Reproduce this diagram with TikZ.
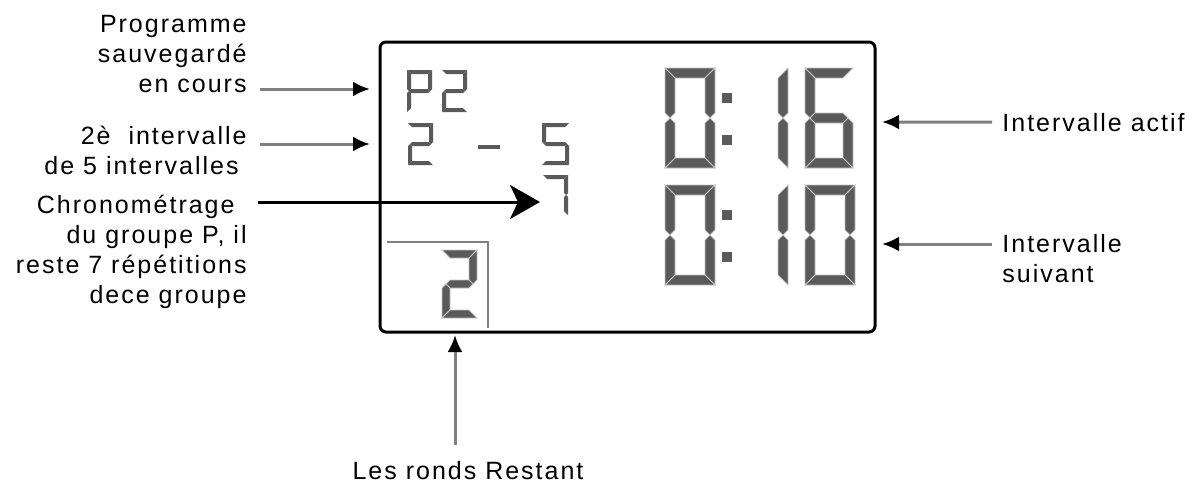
\documentclass[tikz,border=0pt]{standalone}
\usepackage{fontspec}
\setmainfont{Liberation Sans}[LetterSpace=8]
\usetikzlibrary{arrows.meta}

\definecolor{segfill}{HTML}{5A5A5A}
\definecolor{segedge}{HTML}{C4C4C4}
\definecolor{shaft}{HTML}{808080}

% seven segment digit: [style]{x}{y}{width}{height}{thickness}{segments}
\newcommand{\lcddigit}[7][lcdseg]{%
  \begin{scope}[shift={(#2,#3)},lcdpart/.style={#1}]
    \def\sgw{#4}\def\sgh{#5}\def\sgt{#6}
    \foreach \s in {#7}{\csname lcdseg\s\endcsname}
  \end{scope}}
\newcommand{\lcdsega}{\path[lcdpart] (0,0) -- (\sgw,0) -- ({\sgw-\sgt},\sgt) -- (\sgt,\sgt) -- cycle;}
\newcommand{\lcdsegb}{\path[lcdpart] (\sgw,0) -- (\sgw,{\sgh/2-\sgt/2}) -- ({\sgw-\sgt/2},{\sgh/2}) -- ({\sgw-\sgt},{\sgh/2-\sgt/2}) -- ({\sgw-\sgt},\sgt) -- cycle;}
\newcommand{\lcdsegc}{\path[lcdpart] (\sgw,\sgh) -- (\sgw,{\sgh/2+\sgt/2}) -- ({\sgw-\sgt/2},{\sgh/2}) -- ({\sgw-\sgt},{\sgh/2+\sgt/2}) -- ({\sgw-\sgt},{\sgh-\sgt}) -- cycle;}
\newcommand{\lcdsegd}{\path[lcdpart] (0,\sgh) -- (\sgw,\sgh) -- ({\sgw-\sgt},{\sgh-\sgt}) -- (\sgt,{\sgh-\sgt}) -- cycle;}
\newcommand{\lcdsege}{\path[lcdpart] (0,\sgh) -- (0,{\sgh/2+\sgt/2}) -- ({\sgt/2},{\sgh/2}) -- (\sgt,{\sgh/2+\sgt/2}) -- (\sgt,{\sgh-\sgt}) -- cycle;}
\newcommand{\lcdsegf}{\path[lcdpart] (0,0) -- (0,{\sgh/2-\sgt/2}) -- ({\sgt/2},{\sgh/2}) -- (\sgt,{\sgh/2-\sgt/2}) -- (\sgt,\sgt) -- cycle;}
\newcommand{\lcdsegg}{\path[lcdpart] ({\sgt/2},{\sgh/2}) -- (\sgt,{\sgh/2-\sgt/2}) -- ({\sgw-\sgt},{\sgh/2-\sgt/2}) -- ({\sgw-\sgt/2},{\sgh/2}) -- ({\sgw-\sgt},{\sgh/2+\sgt/2}) -- (\sgt,{\sgh/2+\sgt/2}) -- cycle;}

\begin{document}
\begin{tikzpicture}[x=0.5pt,y=-0.5pt,
    lcdseg/.style={fill=segfill,draw=segedge,line width=0.4pt},
    smallseg/.style={fill=segfill},
    lcdbox/.style={draw=black,line width=1.5pt,rounded corners=3pt},
    lbl/.style={font=\fontsize{12.5}{15}\selectfont,inner sep=0pt},
    pointer/.style={shaft,line width=1.5pt,-{Latex[color=black,length=8.5pt,width=7.5pt]}},
    bigpointer/.style={black,line width=1.5pt,-{Stealth[length=15pt,width=17pt,inset=4pt]}}]

  \useasboundingbox (0,0) rectangle (1189,483);

  % Display
  \draw[lcdbox] (380,42) rectangle (875,332);

  % Programme, interval, group
  \lcddigit[smallseg]{407}{70}{25}{42}{4}{a,b,e,f,g}
  \lcddigit[smallseg]{442}{70}{25}{42}{4}{a,b,g,e,d}
  \lcddigit[smallseg]{408}{123}{25}{42}{4}{a,b,g,e,d}
  \fill[segfill] (478,145) rectangle (500,149);
  \lcddigit[smallseg]{542}{123}{27}{42}{4}{a,f,g,c,d}
  \lcddigit[smallseg]{543}{175}{25}{40}{4}{a,b,c}

  % Rounds left
  \draw[shaft,line width=1pt] (387,242) -- (488,242) -- (488,328);
  \lcddigit{442}{250}{35}{68}{8}{a,b,g,e,d}

  % Timers
  \lcddigit{665}{68}{50}{100}{10}{a,b,c,d,e,f}
  \lcddigit{738}{68}{50}{100}{10}{b,c}
  \lcddigit{805}{68}{48}{100}{10}{a,c,d,e,f,g}
  \lcddigit{665}{185}{50}{100}{10}{a,b,c,d,e,f}
  \lcddigit{738}{185}{50}{100}{10}{b,c}
  \lcddigit{805}{185}{50}{100}{10}{a,b,c,d,e,f}
  \foreach \y in {93,135,210,252}
    \fill[segfill] (722,\y) rectangle +(10,10);

  % Labels (base = last line)
  \node[lbl,align=right,anchor=base east] (prog) at (247,92)
    {Programme\\sauvegardé\hspace*{5pt}\\en cours};
  \node[lbl,align=right,anchor=base east] (intv) at (247,174)
    {2è~~intervalle\\de 5 intervalles\hspace*{4pt}};
  \node[lbl,align=right,anchor=base east] (chrono) at (247,303)
    {Chronométrage\hspace*{6pt}\\du groupe P, il\\reste 7 répétitions\\dece groupe};
  \node[lbl,anchor=base west] (actif) at (1002,131) {Intervalle actif};
  \node[lbl,align=left,anchor=base west] (suivant) at (1002,282) {Intervalle\\suivant};
  \node[lbl,anchor=base] (ronds) at (468,479) {Les ronds Restant};

  % Pointers
  \coordinate (progfrom) at (260,89);   \coordinate (progto) at (370,89);
  \coordinate (intvfrom) at (260,144);  \coordinate (intvto) at (370,144);
  \coordinate (chronofrom) at (258,202); \coordinate (chronoto) at (540,202);
  \coordinate (actifto) at (882,122);
  \coordinate (suivantfrom) at (992,244); \coordinate (suivantto) at (882,244);
  \coordinate (rondsfrom) at (455,445); \coordinate (rondsto) at (455,335);
  \draw[pointer] (progfrom) -- (progto);
  \draw[pointer] (intvfrom) -- (intvto);
  \draw[bigpointer] (chronofrom) -- (chronoto);
  \draw[pointer] ([xshift=-5pt]actif.west) -- (actifto);
  \draw[pointer] (suivantfrom) -- (suivantto);
  \draw[pointer] (rondsfrom) -- (rondsto);
\end{tikzpicture}
\end{document}
